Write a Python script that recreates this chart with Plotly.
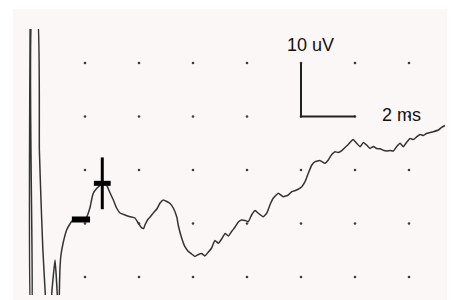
import plotly.graph_objects as go

# Waveform (time in ms, amplitude in uV)
time_ms = [-0.03, -0.01, 0.03, 0.04, 0.23, 0.31, 0.37, 0.44, 0.53, 0.54, 0.75, 0.77, 0.89, 0.97, 0.99,
           1.04, 1.05, 1.07, 1.11, 1.19, 1.32, 1.44, 1.52, 1.63, 1.81, 2.06, 2.19, 2.25, 2.31, 2.43,
           2.53, 2.63, 2.72, 2.80, 2.93, 3.05, 3.17, 3.30, 3.48, 3.67, 3.85, 3.97, 4.10, 4.17, 4.22,
           4.34, 4.41, 4.53, 4.66, 4.78, 4.90, 5.03, 5.15, 5.27, 5.40, 5.46, 5.58, 5.70, 5.81, 5.95,
           6.07, 6.20, 6.32, 6.44, 6.57, 6.69, 6.81, 6.94, 7.06, 7.19, 7.31, 7.43, 7.56, 7.68, 7.80,
           7.93, 8.05, 8.17, 8.30, 8.42, 8.60, 8.73, 8.85, 8.97, 9.16, 9.34, 9.53, 9.66, 9.84, 10.03,
           10.15, 10.27, 10.40, 10.52, 10.70, 10.89, 11.01, 11.14, 11.26, 11.38, 11.51, 11.63, 11.75,
           11.93, 12.06, 12.19, 12.31, 12.43, 12.56, 12.68, 12.80, 12.93, 13.05, 13.17, 13.30, 13.42,
           13.54, 13.67, 13.79, 13.92, 14.04, 14.16, 14.29, 14.41, 14.53, 14.66, 14.78, 14.90, 15.09,
           15.21, 15.33]
amp_uv = [29.0, -26.2, -26.2, 29.0, 29.0, 3.74, -5.61, -14.95, -23.36, -26.2, -26.2, -22.99, -16.82, -22.99, -26.2,
          -26.2, -22.99, -18.69, -15.89, -13.64, -11.21, -10.09, -9.53, -9.25, -9.16, -8.79, -6.92, -5.42, -4.30, -3.46,
          -2.99, -2.43, -2.43, -2.80, -4.30, -5.61, -7.10, -8.04, -8.41, -8.73, -8.97, -9.91, -10.84, -10.93, -10.28,
          -9.16, -8.79, -8.04, -7.29, -6.17, -5.61, -5.89, -6.26, -7.10, -8.79, -10.47, -12.71, -14.34, -15.14, -15.70,
          -16.17, -15.79, -15.61, -16.07, -15.33, -14.58, -13.18, -13.70, -12.90, -11.87, -12.34, -11.50, -10.65, -9.72, -9.35,
          -9.44, -9.66, -8.41, -7.57, -8.09, -8.73, -8.09, -6.54, -5.29, -4.36, -4.99, -4.67, -4.06, -3.74, -3.12,
          -2.19, -0.62, 0.93, 1.55, 1.78, 1.25, 1.87, 2.90, 3.42, 3.27, 3.64, 4.21, 4.77,
          5.70, 4.99, 4.36, 5.14, 4.67, 4.02, 4.39, 4.02, 3.96, 3.68, 3.55, 3.64, 3.55,
          4.36, 4.99, 4.36, 5.23, 5.89, 5.70, 6.22, 6.64, 6.45, 6.86, 7.01, 7.16, 7.48,
          7.98, 8.32]

# Wave markers (latency ms, amplitude uV)
onset_lat = [1.85]
onset_amp = [-9.25]
peak_lat = [2.64]
peak_amp = [-2.49]

# Grid dots
grid_t = [2, 4, 6, 8, 10, 12, 14]
grid_v = [-20, -10, 0, 10, 20]

# Calibration bar: 2 ms x 10 uV
cal_t = [10, 10, 12]
cal_v = [20, 10, 10]

# The page body adds an 8px white border on the left/top
W, H = 447, 292
L, R, T, B = 5, 0, 21, 5
PW, PH = W - L - R, H - T - B
PINK = "#fcf7f7"
INK = "#333333"

gx = [t for t in grid_t for v in grid_v]
gy = [v for t in grid_t for v in grid_v]

fig = go.Figure()
fig.add_trace(go.Scatter(x=gx, y=gy, mode="markers",
                         marker=dict(size=2.6, color="#3c3c3c", line=dict(width=0)),
                         hoverinfo="skip"))
fig.add_trace(go.Scatter(x=time_ms, y=amp_uv, mode="lines",
                         line=dict(color=INK, width=1.5, shape="spline", smoothing=0.4)))
fig.add_trace(go.Scatter(x=cal_t, y=cal_v, mode="lines",
                         line=dict(color="#222222", width=2)))
fig.add_trace(go.Scatter(x=onset_lat, y=onset_amp, mode="markers",
                         marker=dict(symbol="line-ew", size=13, line=dict(width=6, color="#000"))))
fig.add_trace(go.Scatter(x=peak_lat, y=peak_amp, mode="markers",
                         marker=dict(symbol="line-ew", size=12, line=dict(width=5, color="#000"))))
fig.add_trace(go.Scatter(x=peak_lat, y=peak_amp, mode="markers",
                         marker=dict(symbol="line-ns", size=37, line=dict(width=3, color="#000"))))

fig.add_annotation(x=9.41, y=23.4, text="10 uV", showarrow=False, xanchor="left", yanchor="middle",
                   font=dict(family="Liberation Sans, Arial", size=18, color="#111111"))
fig.add_annotation(x=12.93, y=10.28, text="2 ms", showarrow=False, xanchor="left", yanchor="middle",
                   font=dict(family="Liberation Sans, Arial", size=18, color="#111111"))

# white scan borders (top and left)
fig.add_shape(type="rect", xref="paper", yref="paper", x0=-L / PW - 0.01, x1=0,
              y0=-B / PH - 0.01, y1=1 + T / PH + 0.01, fillcolor="white", line_width=0, layer="below")
fig.add_shape(type="rect", xref="paper", yref="paper", x0=-L / PW - 0.01, x1=1.01,
              y0=1 + (T - 1) / PH, y1=1 + T / PH + 0.01, fillcolor="white", line_width=0, layer="below")

fig.update_xaxes(range=[(13 - 31) / 27, (455 - 31) / 27], visible=False, showgrid=False, zeroline=False)
fig.update_yaxes(range=[(170 - 295) / 5.35, (170 - 29) / 5.35], visible=False, showgrid=False, zeroline=False)
fig.update_layout(width=W, height=H, margin=dict(l=L, r=R, t=T, b=B, pad=0),
                  paper_bgcolor=PINK, plot_bgcolor=PINK, showlegend=False)

fig.write_html("out.html")
